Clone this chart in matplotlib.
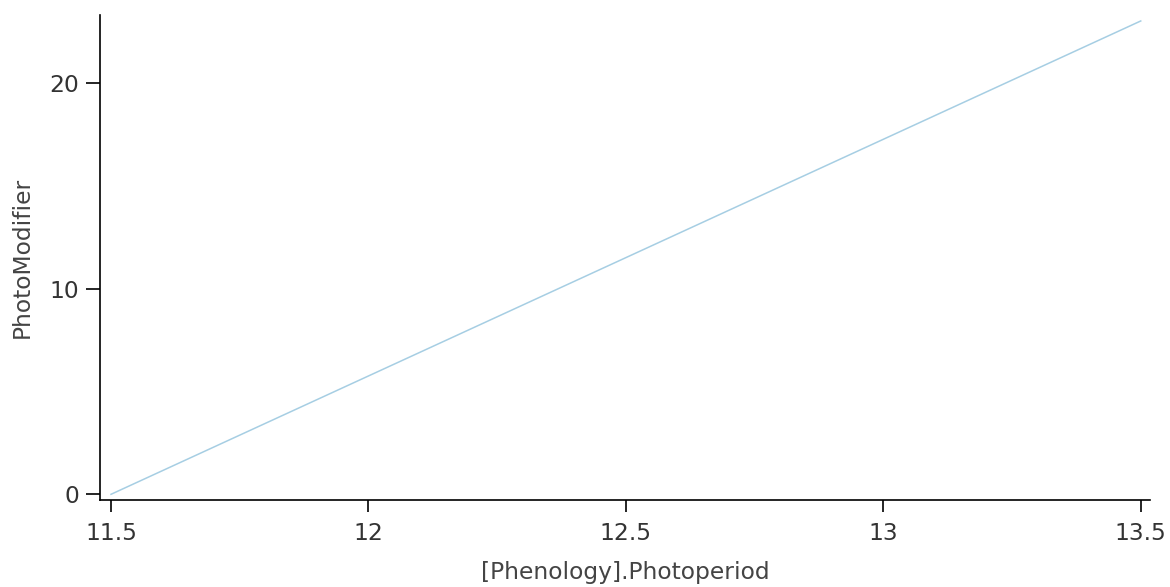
import matplotlib
matplotlib.use("Agg")
import matplotlib.pyplot as plt

photoperiod = [11.5, 13.5]
photo_modifier = [0.0, 23.0]
x_ticks = [11.5, 12, 12.5, 13, 13.5]
x_tick_labels = ["11.5", "12", "12.5", "13", "13.5"]
y_ticks = [0, 10, 20]
y_tick_labels = ["0", "10", "20"]

W, H = 1170, 587
fig = plt.figure(figsize=(W / 100, H / 100), dpi=100)
ax = fig.add_axes([100 / W, (H - 500) / H, 1050 / W, 485 / H])

ax.plot(photoperiod, photo_modifier, color="#a6cee3", linewidth=1.1)

ax.set_xlim(11.4786, 13.518)
ax.set_ylim(-0.277, 23.29)
ax.set_xticks(x_ticks)
ax.set_xticklabels(x_tick_labels)
ax.set_yticks(y_ticks)
ax.set_yticklabels(y_tick_labels)

for s in ["top", "right"]:
    ax.spines[s].set_visible(False)
for s in ["left", "bottom"]:
    ax.spines[s].set_linewidth(1.2)
    ax.spines[s].set_color("black")

fs = 16.8
ax.tick_params(axis="x", length=8.5, width=1.2, pad=7, labelsize=fs, labelcolor="#333333")
ax.tick_params(axis="y", length=10, width=1.2, pad=5, labelsize=fs, labelcolor="#333333")

ax.set_xlabel("[Phenology].Photoperiod", fontsize=fs, color="#444444", labelpad=12)
ax.set_ylabel("PhotoModifier", fontsize=fs, color="#444444", labelpad=11)

fig.savefig("out.png", dpi=100)
